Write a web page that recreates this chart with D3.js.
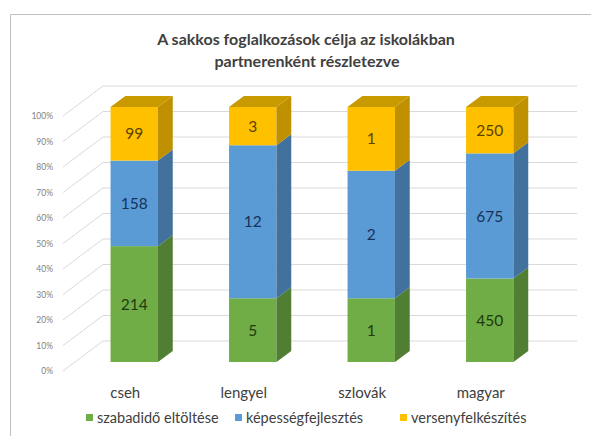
<!DOCTYPE html>
<html>
<head>
<meta charset="utf-8">
<script src="https://cdn.jsdelivr.net/npm/d3@7"></script>
<style>
  body { margin: 0; background: #fff; }
  svg { display: block; font-family: Lato, "Open Sans", sans-serif; }
</style>
</head>
<body>
<div id="chart"></div>
<script>
const width = 591;
const height = 436;

// data
const categories = ["cseh", "lengyel", "szlovák", "magyar"];
const seriesNames = ["szabadidő eltöltése", "képességfejlesztés", "versenyfelkészítés"];
const szabadido = [214, 5, 1, 450];
const kepesseg = [158, 12, 2, 675];
const verseny = [99, 3, 1, 250];
const yTicks = [0, 0.1, 0.2, 0.3, 0.4, 0.5, 0.6, 0.7, 0.8, 0.9, 1];

const frontCol = ["#70ad47", "#5b9bd5", "#ffc000"];
const sideCol = ["#507e32", "#41719c", "#bf9000"];
const topCol = ["#5f9437", "#4a84b8", "#c99a00"];
const labelCol = ["#1d3b0d", "#17325a", "#5c4300"];

const svg = d3.select("#chart").append("svg")
  .attr("width", width)
  .attr("height", height);

// frame
svg.append("path")
  .attr("d", "M10.5," + height + "V14.5H" + width)
  .attr("fill", "none")
  .attr("stroke", "#bfbfbf");

// title
const title = svg.append("text")
  .attr("text-anchor", "middle")
  .attr("fill", "#404040")
  .style("font-size", "16px")
  .style("font-weight", "bold");
title.append("tspan").attr("x", 306).attr("y", 45).text("A sakkos foglalkozások  célja az iskolákban");
title.append("tspan").attr("x", 307).attr("y", 67).text("partnerenként  részletezve");

// 3d geometry: front plane + depth vector
const depthX = 40, depthY = -30;
const x = d3.scaleBand().domain(categories).range([63, 537]).paddingInner(0.6).paddingOuter(0.3);
const y = d3.scaleLinear().domain([0, 1]).range([371, 116]);
const barDepth0 = 0.3, barDepth = 0.37;

// walls gridlines
const grid = svg.append("g").attr("stroke", "#d9d9d9").attr("fill", "none");
yTicks.forEach(t => {
  grid.append("line")
    .attr("x1", 63).attr("y1", y(t))
    .attr("x2", 63 + depthX).attr("y2", y(t) + depthY);
  grid.append("line")
    .attr("x1", 63 + depthX).attr("y1", y(t) + depthY)
    .attr("x2", 537 + depthX).attr("y2", y(t) + depthY);
});

// y axis labels
const yAxis = svg.append("g")
  .attr("transform", "translate(63,0)")
  .call(d3.axisLeft(y).tickValues(yTicks).tickFormat(d3.format(".0%")).tickSize(0).tickPadding(10));
yAxis.select(".domain").remove();
yAxis.selectAll("text")
  .attr("fill", "#7f7f7f")
  .style("font-family", "Lato, sans-serif")
  .style("font-size", "8.5px");

// stacked 100% data
const table = categories.map((c, i) => ({
  cat: c, 0: szabadido[i], 1: kepesseg[i], 2: verseny[i]
}));
const stack = d3.stack().keys([0, 1, 2]).offset(d3.stackOffsetExpand);
const layers = stack(table);

const ox = depthX * barDepth0, oy = depthY * barDepth0;
const bx = depthX * barDepth, by = depthY * barDepth;

const bars = svg.append("g");
categories.forEach((c, ci) => {
  const x0 = x(c) + ox;
  const x1 = x0 + x.bandwidth();
  layers.forEach((layer, si) => {
    const d = layer[ci];
    const yb = y(d[0]) + oy;
    const yt = y(d[1]) + oy;
    // front
    bars.append("rect")
      .attr("x", x0).attr("y", yt)
      .attr("width", x1 - x0).attr("height", yb - yt)
      .attr("fill", frontCol[si]);
    // side
    bars.append("path")
      .attr("d", `M${x1},${yb}L${x1 + bx},${yb + by}L${x1 + bx},${yt + by}L${x1},${yt}Z`)
      .attr("fill", sideCol[si]);
    // top (only last segment visible)
    if (si === layers.length - 1) {
      bars.append("path")
        .attr("d", `M${x0},${yt}L${x1},${yt}L${x1 + bx},${yt + by}L${x0 + bx},${yt + by}Z`)
        .attr("fill", topCol[si]);
    }
    // value label
    bars.append("text")
      .attr("x", (x0 + x1) / 2)
      .attr("y", (yt + yb) / 2)
      .attr("dy", "0.36em")
      .attr("text-anchor", "middle")
      .attr("fill", labelCol[si])
      .style("font-size", "15.5px")
      .text(table[ci][si]);
  });
});

// category labels
svg.append("g").selectAll("text")
  .data(categories)
  .join("text")
  .attr("x", d => x(d) + x.bandwidth() / 2 + 3)
  .attr("y", 398)
  .attr("text-anchor", "middle")
  .attr("fill", "#404040")
  .style("font-size", "15px")
  .text(d => d);

// legend
const legendX = [86, 235, 400];
const legend = svg.append("g").selectAll("g")
  .data(seriesNames)
  .join("g")
  .attr("transform", (d, i) => `translate(${legendX[i]},0)`);
legend.append("rect")
  .attr("y", 414).attr("width", 7).attr("height", 7)
  .attr("fill", (d, i) => frontCol[i]);
legend.append("text")
  .attr("x", 11).attr("y", 423)
  .attr("fill", "#404040")
  .style("font-size", "14.5px")
  .text(d => d);
</script>
</body>
</html>
